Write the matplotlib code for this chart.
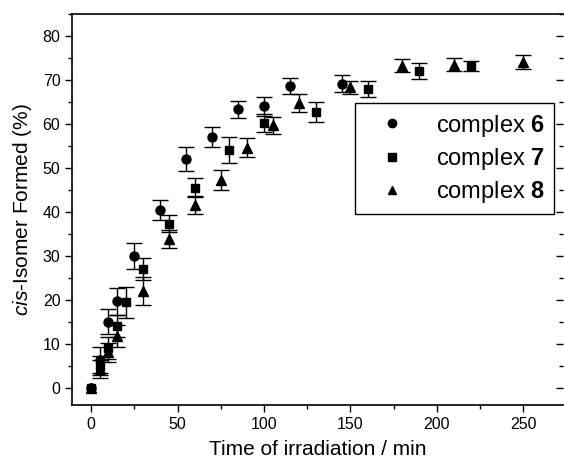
import numpy as np
import matplotlib
matplotlib.use('Agg')
import matplotlib.pyplot as plt
from matplotlib.ticker import MultipleLocator
from matplotlib.lines import Line2D

plt.rcParams['font.family'] = ['Liberation Sans', 'DejaVu Sans']
plt.rcParams['mathtext.fontset'] = 'custom'
plt.rcParams['mathtext.rm'] = 'Liberation Sans'
plt.rcParams['mathtext.it'] = 'Liberation Sans:italic'
plt.rcParams['mathtext.bf'] = 'Liberation Sans:bold'

# complex 6 (circles)
t6 = [0, 5, 10, 15, 25, 40, 55, 70, 85, 100, 115, 145]
y6 = [0, 6.3, 15, 19.6, 30, 40.5, 52, 57, 63.3, 64, 68.6, 69.2]
e6 = [np.nan, 3.0, 2.8, 3.0, 3.0, 2.3, 2.7, 2.3, 2.0, 2.2, 1.8, 1.9]

# complex 7 (squares)
t7 = [0, 5, 10, 15, 20, 30, 45, 60, 80, 100, 130, 160, 190, 220]
y7 = [0, 5.0, 9.0, 14.0, 19.4, 27, 37.3, 45.5, 54, 60.2, 62.7, 68, 72, 73.2]
e7 = [np.nan, 2.2, 2.4, 2.5, 3.5, 2.5, 1.9, 2.2, 3.0, 2.0, 2.2, 1.8, 1.8, 1.2]

# complex 8 (triangles)
t8 = [0, 5, 10, 15, 30, 45, 60, 75, 90, 105, 120, 150, 180, 210, 250]
y8 = [0, 4.2, 8.0, 11.8, 22, 33.8, 41.5, 47.3, 54.6, 59.7, 64.8, 68.3, 73.3, 73.5, 74]
e8 = [np.nan, 2.0, 2.2, 2.5, 3.1, 2.0, 2.0, 2.3, 2.2, 1.9, 2.0, 1.5, 1.5, 1.5, 1.6]

fig = plt.figure(figsize=(5.64, 4.70), dpi=100)
ax = fig.add_axes([0.128, 0.138, 0.870, 0.832])

series = [(t6, y6, e6, 'o', 6.5, 'complex $\\mathbf{6}$'),
          (t7, y7, e7, 's', 5.8, 'complex $\\mathbf{7}$'),
          (t8, y8, e8, '^', 6.5, 'complex $\\mathbf{8}$')]
handles = []
for t, y, e, m, ms, lab in series:
    ax.errorbar(t, y, yerr=e, fmt=m, color='black', ms=ms,
                ecolor='black', elinewidth=1.0, capsize=5.5, capthick=1.0)
    handles.append(Line2D([], [], ls='none', marker=m, color='black',
                          ms=ms - 0.5, label=lab))

ax.set_xlim(-11, 273)
ax.set_ylim(-4, 85)
ax.xaxis.set_major_locator(MultipleLocator(50))
ax.xaxis.set_minor_locator(MultipleLocator(25))
ax.yaxis.set_major_locator(MultipleLocator(10))
ax.yaxis.set_minor_locator(MultipleLocator(5))
ax.tick_params(which='both', direction='out', labelsize=11.5, width=1.0)
ax.tick_params(which='major', length=5)
ax.tick_params(which='minor', length=3)
ax.spines['right'].set_visible(False)
for s in ['left', 'bottom', 'top']:
    ax.spines[s].set_linewidth(1.2)

# inward ticks on the (hidden) right side
ax2 = ax.twinx()
ax2.set_ylim(ax.get_ylim())
ax2.yaxis.set_major_locator(MultipleLocator(10))
ax2.yaxis.set_minor_locator(MultipleLocator(5))
ax2.tick_params(which='both', direction='in', labelright=False, width=1.0)
ax2.tick_params(which='major', length=5)
ax2.tick_params(which='minor', length=3)
for s in ax2.spines.values():
    s.set_visible(False)

ax.set_xlabel('Time of irradiation / min', fontsize=15, labelpad=6)
ax.set_ylabel('$\\mathit{cis}$-Isomer Formed (%)', fontsize=15, labelpad=6)

leg = ax2.legend(handles=handles, loc='upper right', bbox_to_anchor=(0.982, 0.772),
                 borderaxespad=0, fontsize=17, frameon=True, fancybox=False,
                 edgecolor='black', handletextpad=0.66, borderpad=0.4,
                 labelspacing=0.3, handlelength=2.35, framealpha=1)
leg.get_frame().set_linewidth(1.0)

fig.savefig('out.png', dpi=100)
